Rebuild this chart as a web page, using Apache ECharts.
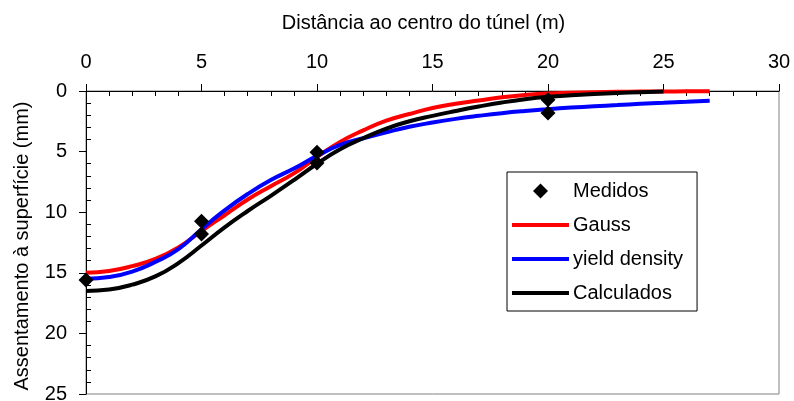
<!DOCTYPE html>
<html>
<head>
<meta charset="utf-8">
<script src="https://cdn.jsdelivr.net/npm/echarts@6/dist/echarts.min.js"></script>
<style>html,body{margin:0;padding:0;background:#fff}#c{width:794px;height:401px}</style>
</head>
<body>
<div id="c"></div>
<script>
const xTitle = 'Distância ao centro do túnel (m)';
const yTitle = 'Assentamento à superfície (mm)';
const seriesNames = ['Medidos', 'Gauss', 'yield density', 'Calculados'];

const medidosX = [0, 5, 5, 10, 10, 20, 20];
const medidosY = [15.6, 10.75, 11.8, 5.05, 5.95, 0.72, 1.82];

const curveX = [0,1,2,3,4,5,6,7,8,9,10,11,12,13,14,15,16,17,18,19,20,21,22,23,24,25,26,27];
const gaussY = [15.0,14.85,14.45,13.85,12.9,11.55,10.25,8.95,7.85,6.8,5.45,4.2,3.25,2.45,1.9,1.4,1.05,0.78,0.52,0.33,0.2,0.14,0.1,0.07,0.05,0.04,0.03,0.03];
const yieldY = [15.5,15.35,14.9,14.1,13.05,11.4,9.85,8.5,7.35,6.4,5.35,4.45,3.9,3.4,2.95,2.6,2.3,2.05,1.83,1.65,1.5,1.37,1.26,1.16,1.06,0.97,0.88,0.8];
const calcX = [0,1,2,3,4,5,6,7,8,9,10,11,12,13,14,15,16,17,18,19,20,21,22,23,24,25];
const calcY = [16.5,16.38,15.98,15.3,14.2,12.75,11.25,9.9,8.65,7.35,6.0,4.8,3.9,3.1,2.5,2.05,1.65,1.28,0.95,0.68,0.48,0.35,0.25,0.17,0.1,0.04];

const xTicks = {min: 0, max: 30, interval: 5};
const yTicks = {min: 0, max: 25, interval: 5};

const zip = (xs, ys) => xs.map((x, i) => [x, ys[i]]);
const font = 'Liberation Sans, Arial, sans-serif';

const chart = echarts.init(document.getElementById('c'), null, {renderer: 'canvas'});
const axisCommon = {
  type: 'value',
  axisLine: {show: true, lineStyle: {color: '#000', width: 1}},
  axisTick: {show: true, inside: false, length: 7, lineStyle: {color: '#000', width: 1}},
  minorTick: {show: true, splitNumber: 5, length: -5, lineStyle: {color: '#000', width: 1}},
  splitLine: {show: false},
  axisLabel: {color: '#000', fontSize: 20, fontFamily: font}
};
const lineIcon = 'path://M0,0H57V4H0Z';
const diamondIcon = 'path://M7.5,0L15,7.5L7.5,15L0,7.5Z';
chart.setOption({
  animation: false,
  backgroundColor: '#fff',
  textStyle: {fontFamily: font},
  grid: {left: 86, top: 91, right: 15, bottom: 7, show: true, borderColor: '#808080', borderWidth: 1,
         containLabel: false, outerBoundsMode: 'none'},
  graphic: [{
    type: 'text', x: 423.5, y: 23.5,
    style: {text: xTitle, fontSize: 20, fontFamily: font, fill: '#000', textAlign: 'center', textVerticalAlign: 'middle'}
  }, {
    type: 'text', x: 22, y: 246, rotation: Math.PI / 2,
    style: {text: yTitle, fontSize: 20, fontFamily: font, fill: '#000', textAlign: 'center', textVerticalAlign: 'middle'}
  }],
  xAxis: Object.assign({}, axisCommon, {
    position: 'top', min: xTicks.min, max: xTicks.max, interval: xTicks.interval,
    axisLabel: Object.assign({}, axisCommon.axisLabel, {margin: 19})
  }),
  yAxis: Object.assign({}, axisCommon, {
    inverse: true, min: yTicks.min, max: yTicks.max, interval: yTicks.interval,
    axisLabel: Object.assign({}, axisCommon.axisLabel, {margin: 19})
  }),
  legend: {
    orient: 'vertical', left: 507, top: 172,
    data: [
      {name: seriesNames[0], icon: diamondIcon},
      {name: seriesNames[1], icon: lineIcon},
      {name: seriesNames[2], icon: lineIcon},
      {name: seriesNames[3], icon: lineIcon}
    ],
    symbolKeepAspect: true,
    itemWidth: 57, itemHeight: 15, itemGap: 14,
    padding: [9, 14, 8, 5],
    borderColor: '#000', borderWidth: 1, backgroundColor: '#fff',
    textStyle: {color: '#000', fontSize: 20, fontFamily: font, padding: [0, 0, 0, -1]}
  },
  series: [
    {name: seriesNames[1], type: 'line', data: zip(curveX, gaussY), smooth: true, symbol: 'none',
     lineStyle: {color: '#ff0000', width: 4}, itemStyle: {color: '#ff0000', opacity: 1}, z: 2},
    {name: seriesNames[2], type: 'line', data: zip(curveX, yieldY), smooth: true, symbol: 'none',
     lineStyle: {color: '#0000ff', width: 4}, itemStyle: {color: '#0000ff', opacity: 1}, z: 3},
    {name: seriesNames[3], type: 'line', data: zip(calcX, calcY), smooth: true, symbol: 'none',
     lineStyle: {color: '#000000', width: 4}, itemStyle: {color: '#000000', opacity: 1}, z: 4},
    {name: seriesNames[0], type: 'scatter', data: zip(medidosX, medidosY), symbol: 'diamond', symbolSize: 15,
     itemStyle: {color: '#000', opacity: 1}, clip: false, z: 5}
  ]
});
</script>
</body>
</html>
